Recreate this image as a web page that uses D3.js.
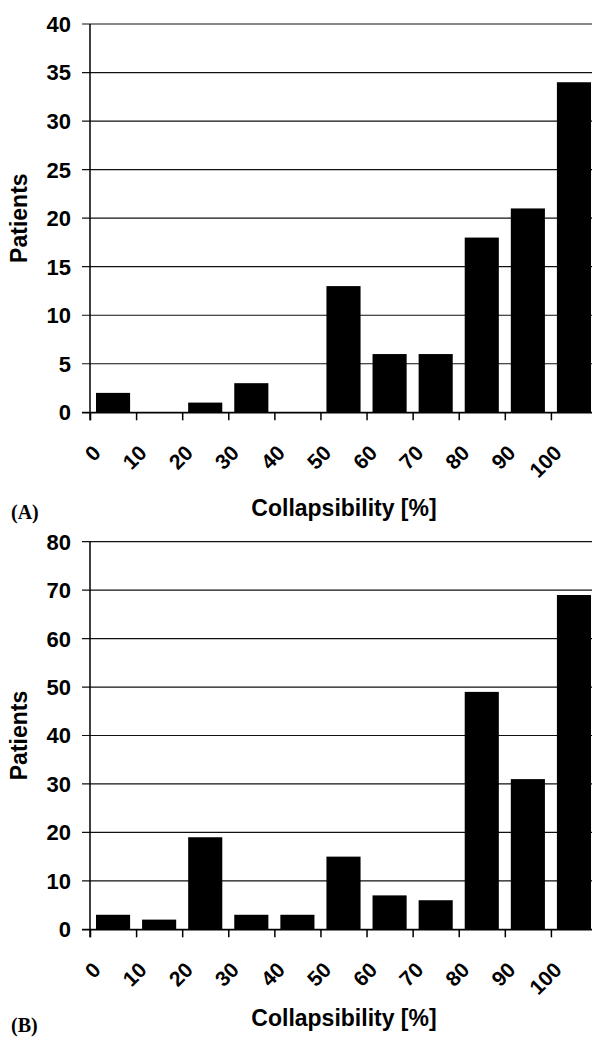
<!DOCTYPE html>
<html>
<head>
<meta charset="utf-8">
<script src="https://cdn.jsdelivr.net/npm/d3@7"></script>
<style>
  html, body { margin: 0; padding: 0; background: #fff; }
  svg { display: block; }
  text { font-family: "Liberation Sans", Arial, sans-serif; font-weight: bold; fill: #000; }
</style>
</head>
<body>
<svg id="chart" width="592" height="1038"></svg>
<script>
// ---- data ----
const binStarts = [0, 10, 20, 30, 40, 50, 60, 70, 80, 90, 100];
const xTickLabels = ["0", "10", "20", "30", "40", "50", "60", "70", "80", "90", "100"];
const valuesA = [2, 0, 1, 3, 0, 13, 6, 6, 18, 21, 34];
const valuesB = [3, 2, 19, 3, 3, 15, 7, 6, 49, 31, 69];
const yTicksA = [0, 5, 10, 15, 20, 25, 30, 35, 40];
const yTicksB = [0, 10, 20, 30, 40, 50, 60, 70, 80];
const panelLabels = ["(A)", "(B)"];
const yTitle = "Patients";
const xTitle = "Collapsibility [%]";

// ---- layout ----
const W = 592;
const plotLeft = 90, plotRight = 597;
const panels = [
  { values: valuesA, ticks: yTicksA, max: 40, top: 24, bottom: 412.3, label: panelLabels[0], titleY: 516, labelY: 519 },
  { values: valuesB, ticks: yTicksB, max: 80, top: 541.7, bottom: 929.3, label: panelLabels[1], titleY: 1026, labelY: 1032 }
];

const svg = d3.select("#chart");

const xBand = d3.scaleBand().domain(binStarts).range([plotLeft, plotRight])
  .paddingInner(0.26).paddingOuter(0.13);
const xLin = d3.scaleLinear().domain([0, 110]).range([plotLeft, plotRight]);

panels.forEach(p => {
  const g = svg.append("g");
  const y = d3.scaleLinear().domain([0, p.max]).range([p.bottom, p.top]);

  // gridlines (incl. tick stubs on left)
  g.append("g").selectAll("line").data(p.ticks).join("line")
    .attr("x1", plotLeft - 8).attr("x2", W)
    .attr("y1", d => y(d)).attr("y2", d => y(d))
    .attr("stroke", "#111").attr("stroke-width", 1.2);

  // y tick labels
  g.append("g").selectAll("text").data(p.ticks).join("text")
    .attr("x", 71).attr("y", d => y(d)).attr("dy", "0.36em")
    .attr("text-anchor", "end").attr("font-size", 22)
    .text(d => d);

  // bars
  g.append("g").selectAll("rect").data(p.values).join("rect")
    .attr("x", (d, i) => xBand(binStarts[i]))
    .attr("width", xBand.bandwidth())
    .attr("y", d => y(d))
    .attr("height", d => y(0) - y(d))
    .attr("fill", "#000");

  // x axis with ticks at bin boundaries
  const xAxis = d3.axisBottom(xLin).tickValues(binStarts).tickSize(8).tickSizeOuter(0).tickFormat("");
  const ax = g.append("g").attr("transform", `translate(0,${y(0)})`).call(xAxis);
  ax.select(".domain").attr("stroke", "#000").attr("stroke-width", 1.5)
    .attr("d", `M${plotLeft - 8},0.5H${W}`);
  ax.selectAll(".tick line").attr("stroke", "#000").attr("stroke-width", 1.5);

  // y axis line
  g.append("line").attr("x1", plotLeft).attr("x2", plotLeft)
    .attr("y1", y(p.max)).attr("y2", y(0) + 8)
    .attr("stroke", "#000").attr("stroke-width", 1.5);

  // rotated x tick labels
  g.append("g").selectAll("text").data(binStarts).join("text")
    .attr("text-anchor", "end").attr("font-size", 21)
    .attr("transform", (d) => `translate(${xLin(d) + 12},${y(0) + 42}) rotate(-45)`)
    .text((d, i) => xTickLabels[i]);

  // y title
  g.append("text")
    .attr("transform", `translate(27,${(p.top + p.bottom) / 2}) rotate(-90)`)
    .attr("text-anchor", "middle").attr("font-size", 23)
    .text(yTitle);

  // x title
  g.append("text")
    .attr("x", 344).attr("y", p.titleY)
    .attr("text-anchor", "middle").attr("font-size", 23)
    .text(xTitle);

  // panel label
  g.append("text")
    .attr("x", 11).attr("y", p.labelY)
    .attr("font-size", 20)
    .style("font-family", "'Liberation Serif', 'Times New Roman', serif")
    .text(p.label);
});
</script>
</body>
</html>
